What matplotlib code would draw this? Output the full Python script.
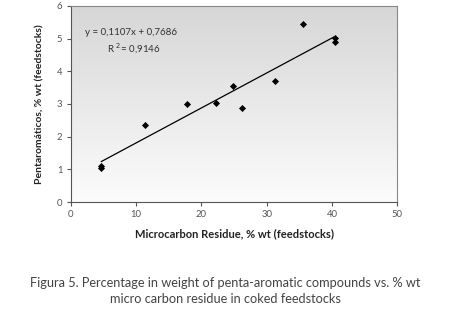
import numpy as np
import matplotlib
matplotlib.use("Agg")
import matplotlib.pyplot as plt

# Data
mcr = [4.6, 4.6, 11.4, 17.8, 22.3, 24.8, 26.3, 31.3, 35.5, 40.4, 40.4]
penta = [1.10, 1.05, 2.37, 3.01, 3.04, 3.55, 2.87, 3.69, 5.44, 5.03, 4.90]
# trendline as drawn in the picture
trend_x = [4.7, 40.3]
trend_y = [1.24, 5.05]
eq_text = "y = 0,1107x + 0,7686"
r2_text = "R $^{2}$= 0,9146"
xticks = [0, 10, 20, 30, 40, 50]
yticks = [0, 1, 2, 3, 4, 5, 6]

plt.rcParams['font.family'] = ['Lato', 'DejaVu Sans']

fig = plt.figure(figsize=(4.5, 3.09), dpi=100)
ax = fig.add_axes([0.157, 0.346, 0.726, 0.635])

# gradient background
grad = np.linspace(0, 1, 256).reshape(-1, 1)
ax.imshow(grad, extent=[0, 1, 0, 1], transform=ax.transAxes, aspect='auto',
          cmap=matplotlib.colors.LinearSegmentedColormap.from_list('g', ['#d6d6d6', '#fcfcfc']),
          origin='upper', zorder=0)

ax.scatter(mcr, penta, marker='D', s=13, color='black', zorder=3, linewidths=0)
ax.plot(trend_x, trend_y, color='black', lw=0.9, zorder=2)

ax.set_xlim(0, 50)
ax.set_ylim(0, 6)
ax.set_xticks(xticks)
ax.set_yticks(yticks)
ax.tick_params(direction='out', length=3, width=0.8, colors='#555555', labelsize=6.8,
               labelcolor='#555555', pad=3)
for s in ['top', 'right']:
    ax.spines[s].set_color('#888888')
    ax.spines[s].set_linewidth(0.8)
for s in ['left', 'bottom']:
    ax.spines[s].set_color('#555555')
    ax.spines[s].set_linewidth(0.8)

ax.set_xlabel("Microcarbon Residue, % wt (feedstocks)", fontsize=8, fontweight='bold',
              color='#222222', labelpad=6)
ax.set_ylabel("Pentaromáticos, % wt (feedstocks)", fontsize=7.5, fontweight='bold',
              color='#222222', labelpad=9)

ax.text(0.045, 0.865, eq_text, transform=ax.transAxes, fontsize=7, color='#333333', va='center')
ax.text(0.112, 0.78, r2_text, transform=ax.transAxes, fontsize=7, color='#333333', va='center')

fig.text(0.5, 1 - 283 / 309, "Figura 5. Percentage in weight of penta-aromatic compounds vs. % wt",
         ha='center', va='center', fontsize=9.2, color='#444444')
fig.text(0.5, 1 - 299 / 309, "micro carbon residue in coked feedstocks",
         ha='center', va='center', fontsize=9.2, color='#444444')

fig.savefig("out.png", dpi=100)
